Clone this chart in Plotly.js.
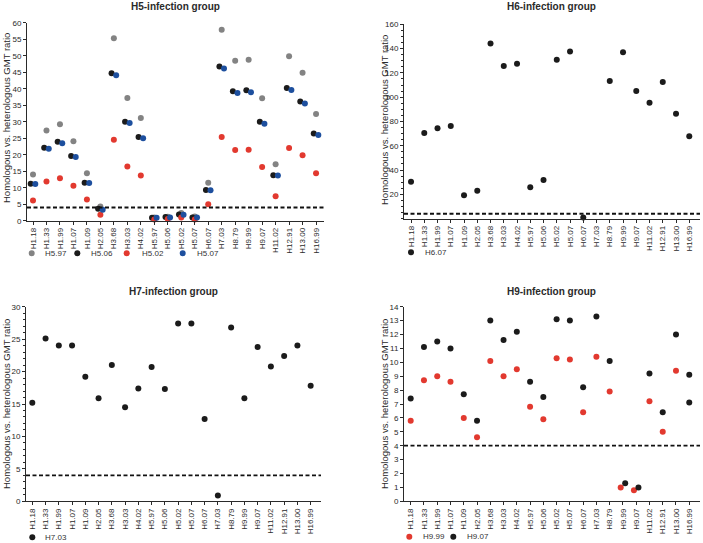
<!DOCTYPE html>
<html>
<head>
<meta charset="utf-8">
<script src="https://cdn.plot.ly/plotly-3.0.1.min.js"></script>
<style>html,body{margin:0;padding:0;background:#fff;}#chart{width:703px;height:543px;}</style>
</head>
<body>
<div id="chart"></div>
<script>
// ---- data ----
const categories = ["H1.18","H1.33","H1.99","H1.07","H1.09","H2.05","H3.68","H3.03","H4.02","H5.97","H5.06","H5.02","H5.07","H6.07","H7.03","H8.79","H9.99","H9.07","H11.02","H12.91","H13.00","H16.99"];

// H5-infection group
const h5_H5_97 = [14.0, 27.3, 29.2, 24.1, 14.4, 4.3, 55.3, 37.2, 31.1, 1.0, 1.2, 2.3, 1.3, 11.5, 57.9, 48.5, 48.8, 37.1, 17.1, 49.8, 44.8, 32.3];
const h5_H5_06 = [11.2, 22.1, 23.9, 19.6, 11.5, 3.6, 44.7, 30.0, 25.4, 0.9, 1.1, 1.9, 1.0, 9.3, 46.7, 39.2, 39.5, 30.0, 13.8, 40.2, 36.1, 26.4];
const h5_H5_02 = [6.1, 11.9, 12.9, 10.6, 6.4, 1.8, 24.5, 16.4, 13.7, 0.4, 0.5, 1.0, 0.4, 5.0, 25.4, 21.4, 21.5, 16.3, 7.4, 22.0, 19.8, 14.4];
const h5_H5_07 = [11.1, 21.8, 23.5, 19.3, 11.4, 3.3, 44.1, 29.6, 25.0, 0.9, 1.0, 1.8, 1.0, 9.2, 46.1, 38.7, 38.9, 29.4, 13.7, 39.6, 35.5, 26.0];

// H6-infection group
const h6_H6_07 = [30.4, 70.5, 74.4, 76.3, 19.2, 23.0, 144.1, 125.7, 127.6, 25.8, 31.8, 130.9, 137.5, 1.0, 161.1, 113.3, 137.0, 105.1, 95.5, 112.5, 86.4, 67.8];

// H7-infection group
const h7_H7_03 = [15.2, 25.1, 24.0, 24.0, 19.2, 15.9, 21.0, 14.5, 17.4, 20.7, 17.3, 27.4, 27.4, 12.7, 0.9, 26.8, 15.9, 23.8, 20.8, 22.4, 24.0, 17.8];

// H9-infection group
const h9_H9_99 = [5.8, 8.7, 9.0, 8.6, 6.0, 4.6, 10.1, 9.0, 9.5, 6.8, 5.9, 10.3, 10.2, 6.4, 10.4, 7.9, 1.0, 0.8, 7.2, 5.0, 9.4, 7.1];
const h9_H9_07 = [7.4, 11.1, 11.5, 11.0, 7.7, 5.8, 13.0, 11.6, 12.2, 8.6, 7.5, 13.1, 13.0, 8.2, 13.3, 10.1, 1.3, 1.0, 9.2, 6.4, 12.0, 9.1];

const threshold = 4;
const panelTitles = ["H5-infection group","H6-infection group","H7-infection group","H9-infection group"];
const yTitle = "Homologous vs. heterologous GMT ratio";

// ---- styles ----
const FONT = '"Liberation Sans", Arial, Helvetica, sans-serif';
const INK = '#2a2a2a';
const GRAY = '#838383', BLACK = '#1b1b1b', RED = '#e2392f', BLUE = '#1d4f9e';
const MS = 6;

const idx = categories.map((_, i) => i);
const shift = (d) => idx.map(i => i + d);

function tr(name, y, x, color, xa, ya) {
  return {
    type: 'scatter', mode: 'markers', name: name,
    x: x, y: y, xaxis: xa, yaxis: ya, showlegend: false,
    marker: {size: MS, color: color, line: {width: 0}},
    cliponaxis: false, hoverinfo: 'x+y'
  };
}

// H9 panel: spread points horizontally only where the two series nearly overlap
const h9Spread = idx.map(i => Math.abs(h9_H9_99[i] - h9_H9_07[i]) < 0.5 ? 0.17 : 0);
const h9RedColors = idx.map(i => i === categories.length - 1 ? BLACK : RED);

const traces = [
  tr('H5.97', h5_H5_97, shift(0), GRAY, 'x', 'y'),
  tr('H5.06', h5_H5_06, shift(-0.17), BLACK, 'x', 'y'),
  tr('H5.02', h5_H5_02, shift(0), RED, 'x', 'y'),
  tr('H5.07', h5_H5_07, shift(0.17), BLUE, 'x', 'y'),
  tr('H6.07', h6_H6_07, shift(0), BLACK, 'x2', 'y2'),
  tr('H7.03', h7_H7_03, shift(0), BLACK, 'x3', 'y3'),
  tr('H9.99', h9_H9_99, idx.map(i => i - h9Spread[i]), h9RedColors, 'x4', 'y4'),
  tr('H9.07', h9_H9_07, idx.map(i => i + h9Spread[i]), BLACK, 'x4', 'y4')
];

function xax(domain, range) {
  return {
    domain: domain, range: range, type: 'linear',
    tickmode: 'array', tickvals: idx, ticktext: categories, tickangle: -90,
    ticks: 'outside', ticklen: 3, tickwidth: 1, tickcolor: INK,
    showline: true, linecolor: INK, linewidth: 1,
    showgrid: false, zeroline: false,
    tickfont: {family: FONT, size: 8, color: INK},
    fixedrange: true
  };
}
function yax(domain, range, extra) {
  return Object.assign({
    domain: domain, range: range,
    ticks: 'outside', ticklen: 3, tickwidth: 1, tickcolor: INK,
    showline: true, linecolor: INK, linewidth: 1,
    showgrid: false, zeroline: false,
    tickfont: {family: FONT, size: 8, color: INK},
    fixedrange: true
  }, extra || {});
}

const W = 703, H = 543;
const px = v => v / W, py = v => 1 - v / H;

// ---- per-panel legends (swatch + label), one row under each panel ----
const legendRows = [
  {cy: 253.3, items: [[0, 31.7, 43.3], [1, 77.3, 89.3], [2, 126.7, 140], [3, 182.7, 195]]},
  {cy: 252.3, items: [[4, 411, 423]]},
  {cy: 537.3, items: [[5, 32.3, 43.3]]},
  {cy: 536.7, items: [[6, 409.3, 420.7], [7, 453.3, 465]]}
];
const legendShapes = [], legendLabels = [];
legendRows.forEach(row => row.items.forEach(([t, mx, tx]) => {
  const c = traces[t].marker.color;
  const col = Array.isArray(c) ? c[0] : c;
  const r = MS / 2;
  legendShapes.push({type: 'circle', xref: 'paper', yref: 'paper',
    x0: px(mx - r), x1: px(mx + r), y0: py(row.cy + r), y1: py(row.cy - r),
    fillcolor: col, line: {width: 0}});
  legendLabels.push({text: traces[t].name, x: px(tx), y: py(row.cy), xref: 'paper', yref: 'paper',
    showarrow: false, xanchor: 'left', yanchor: 'middle', font: {family: FONT, size: 8, color: '#333'}});
}));

const titleFont = {family: FONT, size: 10, color: INK, weight: 'bold'};
const yTitleFont = {family: FONT, size: 9.5, color: INK};
const ann = (text, x, y, font, extra) => Object.assign({text: text, x: px(x), y: py(y), xref: 'paper', yref: 'paper',
  showarrow: false, xanchor: 'center', yanchor: 'middle', font: font}, extra || {});

const layout = {
  width: W, height: H,
  margin: {l: 0, r: 0, t: 0, b: 0, autoexpand: false},
  paper_bgcolor: '#fff', plot_bgcolor: '#fff',
  font: {family: FONT, size: 8, color: INK},
  showlegend: false,
  xaxis:  Object.assign(xax([px(27), px(324)], [-0.445, 21.59]), {anchor: 'y'}),
  yaxis:  Object.assign(yax([py(220.7), py(22.7)], [0, 60], {dtick: 5}), {anchor: 'x'}),
  xaxis2: Object.assign(xax([px(404), px(700)], [-0.53, 21.81]), {anchor: 'y2'}),
  yaxis2: Object.assign(yax([py(218.6), py(24.3)], [0, 160], {tickmode: 'array', tickvals: [20,40,60,80,100,120,140,160],
           minor: {ticks: 'outside', ticklen: 2, dtick: 5, tickcolor: INK, showgrid: false}}), {anchor: 'x2'}),
  xaxis3: Object.assign(xax([px(26), px(321)], [-0.475, 21.78]), {anchor: 'y3'}),
  yaxis3: Object.assign(yax([py(501.3), py(306.7)], [0, 30], {dtick: 5,
           minor: {ticks: 'outside', ticklen: 2, dtick: 1, tickcolor: INK, showgrid: false}}), {anchor: 'x3'}),
  xaxis4: Object.assign(xax([px(404), px(700)], [-0.505, 21.81]), {anchor: 'y4'}),
  yaxis4: Object.assign(yax([py(501.3), py(306.7)], [0, 14], {dtick: 1}), {anchor: 'x4'}),
  shapes: ['', '2', '3', '4'].map(s => ({
    type: 'line', xref: 'x' + s + ' domain', x0: 0, x1: 1,
    yref: 'y' + s, y0: threshold, y1: threshold,
    line: {color: '#111', width: 1.8, dash: '4px,2.5px'}
  })).concat(legendShapes),
  annotations: [
    ann(panelTitles[0], 175, 7, titleFont),
    ann(panelTitles[1], 551, 7, titleFont),
    ann(panelTitles[2], 173, 291.5, titleFont),
    ann(panelTitles[3], 551, 291.5, titleFont),
    ann(yTitle, 6, 118, yTitleFont, {textangle: -90}),
    ann(yTitle, 384, 120, yTitleFont, {textangle: -90}),
    ann(yTitle, 6, 404, yTitleFont, {textangle: -90}),
    ann(yTitle, 384, 404, yTitleFont, {textangle: -90})
  ].concat(legendLabels)
};

Plotly.newPlot('chart', traces, layout, {displayModeBar: false, staticPlot: true});
</script>
</body>
</html>
